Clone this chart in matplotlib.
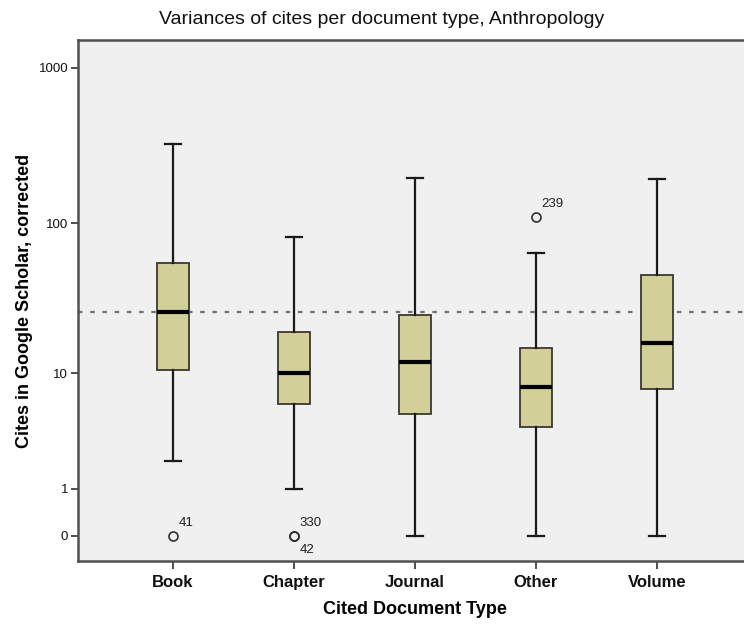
import numpy as np
import matplotlib
matplotlib.use("Agg")
import matplotlib.pyplot as plt

# Kennwerte der Boxplots (Zitationen je Dokumenttyp)
typen = ["Book", "Chapter", "Journal", "Other", "Volume"]
q1 = [10.6, 6.0, 5.0, 4.0, 7.8]
median = [26.2, 10.1, 12.0, 8.0, 16.2]
q3 = [55.5, 19.2, 25.2, 15.0, 46.0]
whisker_unten = [2.0, 1.0, 0.0, 0.0, 0.0]
whisker_oben = [325.0, 81.0, 197.0, 64.0, 193.0]
ausreisser = [[0.0], [0.0, 0.0], [], [110.0], []]
ausreisser_labels = [["41"], ["330", "42"], [], ["239"], []]
referenzwert = 26.2

y_ticks = [0, 1, 10, 100, 1000]

plt.rcParams['font.family'] = ['Liberation Sans', 'DejaVu Sans']


def vorwaerts(x):
    return np.log10(np.clip(x, -0.99, None) + 1)


def rueckwaerts(y):
    return 10 ** y - 1


fig = plt.figure(figsize=(7.44, 6.24), dpi=100)
ax = fig.add_axes([78 / 744, 1 - 561 / 624, 674 / 744, 521 / 624])
ax.set_facecolor('#f0f0f0')
ax.set_yscale('function', functions=(vorwaerts, rueckwaerts))

stats = []
for i, name in enumerate(typen):
    stats.append({
        'label': name,
        'med': median[i],
        'q1': q1[i],
        'q3': q3[i],
        'whislo': whisker_unten[i],
        'whishi': whisker_oben[i],
        'fliers': ausreisser[i],
    })

pos = np.arange(len(typen))
ax.bxp(stats, positions=pos, widths=0.26, patch_artist=True,
       boxprops=dict(facecolor='#d3cf98', edgecolor='#3a3a30', linewidth=1.3),
       medianprops=dict(color='black', linewidth=3),
       whiskerprops=dict(color='#1a1a1a', linewidth=1.6),
       capprops=dict(color='#1a1a1a', linewidth=1.6),
       capwidths=0.13,
       flierprops=dict(marker='o', markersize=6.5, markerfacecolor='none',
                       markeredgecolor='#303030', markeredgewidth=1.2))

# gepunktete Referenzlinie
ax.axhline(referenzwert, color='#707070', linewidth=1.6,
           linestyle=(0, (2, 3.5)), zorder=1)

# Beschriftung der Ausreißer (Fallnummern)
for i, werte in enumerate(ausreisser):
    for k, (w, lab) in enumerate(zip(werte, ausreisser_labels[i])):
        dy = 9 if k == 0 else -10
        ax.annotate(lab, (pos[i], w), xytext=(4, dy), textcoords='offset points',
                    fontsize=9.5, color='#202020', ha='left', va='center')

ax.set_xlim(-0.785, 4.785)
ax.set_ylim(-0.31, 1509)
ax.set_yticks(y_ticks)
ax.set_yticklabels([str(t) for t in y_ticks], fontsize=9.5, color='#202020')
ax.minorticks_off()
ax.set_xticks(pos)
ax.set_xticklabels(typen, fontsize=12, fontweight='bold')
ax.tick_params(axis='y', direction='out', length=5, width=1.2, colors='#303030', pad=2)
ax.tick_params(axis='x', direction='out', length=6, width=1.2, colors='#303030', pad=4)
for lab in ax.get_xticklabels() + ax.get_yticklabels():
    lab.set_color('#111111')

for s in ['left', 'bottom', 'top']:
    ax.spines[s].set_color('#505050')
    ax.spines[s].set_linewidth(1.8)
ax.spines['right'].set_visible(False)

ax.set_xlabel('Cited Document Type', fontsize=13, fontweight='bold', labelpad=8)
ax.set_ylabel('Cites in Google Scholar, corrected', fontsize=13, fontweight='bold', labelpad=4)

fig.text(382 / 744, 1 - 19 / 624, 'Variances of cites per document type, Anthropology',
         ha='center', va='center', fontsize=14, color='#111111')

fig.savefig('out.png', dpi=100)
